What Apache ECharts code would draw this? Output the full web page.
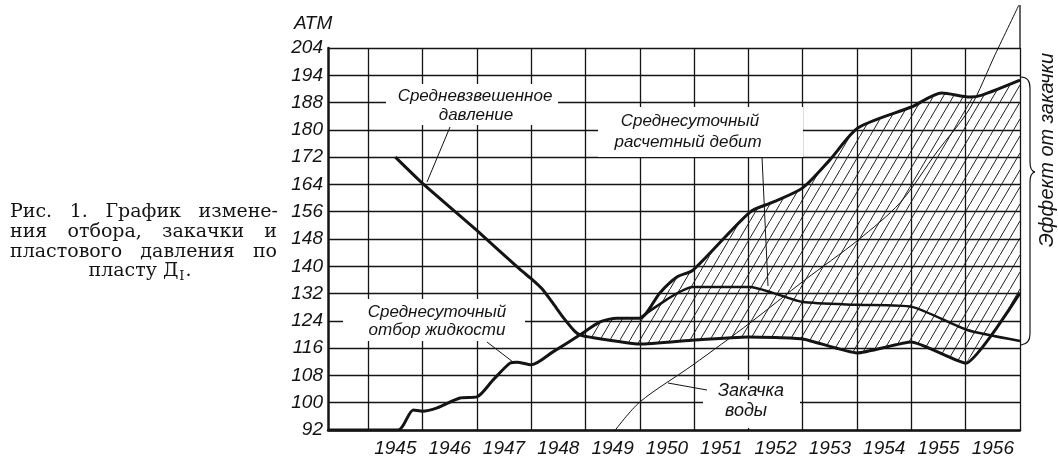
<!DOCTYPE html>
<html><head><meta charset="utf-8">
<script src="https://cdn.jsdelivr.net/npm/echarts@6/dist/echarts.min.js"></script>
<style>html,body{margin:0;padding:0;background:#fff}#c{width:1058px;height:462px}</style>
</head><body><div id="c"></div>
<script>
// ---------- data ----------
const yearLabels = ['1945','1946','1947','1948','1949','1950','1951','1952','1953','1954','1955','1956'];
const yTickLabels = ['92','100','108','116','124','132','140','148','156','164','172','180','188','194','204'];

// Средневзвешенное давление (ATM)
const pressure = [
  [1945.5,172.0],[1946.0,164.3],[1947.0,150.5],[1947.8,139.0],[1948.0,136.4],
  [1948.2,133.4],[1948.4,129.2],[1948.6,124.8],[1948.8,121.0],[1948.9,119.9],
  [1949.05,119.3],[1950.0,117.2],[1951.0,118.4],[1952.0,119.3],[1953.0,118.7],
  [1954.0,114.6],[1955.0,117.8],[1956.0,111.6],[1957.0,132.2]
];
// Среднесуточный отбор жидкости
const withdrawal = [
  [1944.26,92.0],[1945.55,92.0],[1945.83,97.9],[1946.0,97.5],[1946.27,98.5],
  [1946.69,101.4],[1947.0,101.7],[1947.3,106.7],[1947.61,111.6],[1947.74,111.9],
  [1948.0,111.1],[1948.4,114.9],[1948.9,119.9],[1949.27,123.7],[1949.58,124.8],
  [1950.0,124.8],[1950.37,132.2],[1950.69,136.9],[1950.98,138.9],[1952.03,155.9],
  [1952.45,158.8],[1953.0,163.0],[1953.5,171.2],[1954.02,180.6],[1955.0,186.7],
  [1955.56,190.8],[1956.08,189.6],[1956.3,190.2],[1957.0,194.6]
];
// Среднесуточный расчетный дебит
const calcRate = [
  [1950.0,124.8],[1950.98,133.9],[1952.03,133.9],[1952.45,132.2],[1953.0,129.5],
  [1954.02,128.7],[1955.01,128.1],[1956.03,121.3],[1957.0,118.1]
];
// Закачка воды
const injection = [
  [1949.55,92.0],[1950.0,100.2],[1950.98,111.1],[1952.03,123.4],[1953.04,136.0],
  [1954.02,147.7],[1954.79,158.6],[1955.47,173.5],[1956.08,186.4],[1956.54,202.0],
  [1956.98,216.6]
];
const frameTop = [[1957.0,204.0],[1957.0,216.6]];

// ---------- build ----------
const gridYears = yearLabels.map(Number).concat([Number(yearLabels[yearLabels.length-1]) + 1]);
const labelValues = yearLabels.map(y => Number(y) + 0.5);
const crossX = 1948.9;
const hatchPoly = withdrawal.filter(p => p[0] >= crossX)
  .concat(pressure.filter(p => p[0] >= crossX).reverse());

const pc = document.createElement('canvas'); pc.width = 10; pc.height = 17;
const pg = pc.getContext('2d'); pg.strokeStyle = '#222'; pg.lineWidth = 1;
pg.beginPath(); pg.moveTo(-1, 18.7); pg.lineTo(11, -1.7); pg.stroke();
const hatch = { image: pc, repeat: 'repeat' };

const INK = '#141414';
const AF = 'italic 17px "Liberation Sans", Arial, sans-serif';
const CF = '19px "DejaVu Serif", "Liberation Serif", serif';
const mctx = document.createElement('canvas').getContext('2d');
function measure(s, font) { mctx.font = font; return mctx.measureText(s).width; }

function justify(words, x0, x1, y, font) {
  const ws = words.map(w => measure(w, font));
  const total = ws.reduce((a, b) => a + b, 0);
  const gap = (x1 - x0 - total) / (words.length - 1);
  let x = x0; const out = [];
  words.forEach((w, i) => {
    out.push({ type: 'text', x: x, y: y, z: 20,
      style: { text: w, font: font, fill: INK, textVerticalAlign: 'middle' } });
    x += ws[i] + gap;
  });
  return out;
}
function lastLine(cx, y) {
  const subF = '13px "DejaVu Serif", "Liberation Serif", serif';
  const a = 'пласту Д', b = 'I', c = '.';
  const wa = measure(a, CF), wb = measure(b, subF), wc = measure(c, CF);
  let x = cx - (wa + wb + wc) / 2;
  return [
    { type: 'text', z: 20, x: x, y: y, style: { text: a, font: CF, fill: INK, textVerticalAlign: 'middle' } },
    { type: 'text', z: 20, x: x + wa + 1, y: y + 6, style: { text: b, font: subF, fill: INK, textVerticalAlign: 'middle' } },
    { type: 'text', z: 20, x: x + wa + wb + 2, y: y, style: { text: c, font: CF, fill: INK, textVerticalAlign: 'middle' } }
  ];
}
function txt(s, x, y, font, extra) {
  return Object.assign({ type: 'text', x: x, y: y, z: 20,
    style: { text: s, font: font || AF, fill: INK, textAlign: 'center', textVerticalAlign: 'middle' } }, extra || {});
}
function box(x, y, w, h) {
  return { type: 'rect', z: 15, shape: { x: x, y: y, width: w, height: h }, style: { fill: '#fff' } };
}
function seg(x1, y1, x2, y2, w) {
  return { type: 'line', z: 20, shape: { x1: x1, y1: y1, x2: x2, y2: y2 }, style: { stroke: INK, lineWidth: w || 1 } };
}
function curve(x1, y1, cx, cy, x2, y2) {
  return { type: 'bezierCurve', z: 20, shape: { x1: x1, y1: y1, cpx1: cx, cpy1: cy, x2: x2, y2: y2 },
    style: { stroke: INK, lineWidth: 1.2, fill: null } };
}

const graphics = [
  box(386, 84, 172, 41), box(598, 107, 205, 50), box(343, 299, 182, 42), box(703, 380, 97, 48),
  txt('Средневзвешенное', 475, 96), txt('давление', 476, 115),
  txt('Среднесуточный', 690, 121), txt('расчетный дебит', 688, 142),
  txt('Среднесуточный', 437, 312), txt('отбор жидкости', 437, 330),
  txt('Закачка', 751, 391, 'italic 18px "Liberation Sans", Arial, sans-serif'),
  txt('воды', 746, 411, 'italic 18px "Liberation Sans", Arial, sans-serif'),
  seg(450, 127, 427, 182), seg(762, 157, 768, 286), seg(487, 342, 513, 362), seg(668, 383, 707, 390),
  curve(1021, 77, 1030, 77, 1030, 88), seg(1030, 88, 1030, 162, 1.2),
  curve(1030, 162, 1030, 171, 1035, 172), curve(1035, 172, 1030, 173, 1030, 182),
  seg(1030, 182, 1030, 334, 1.2), curve(1030, 334, 1030, 344, 1021, 345),
  { type: 'text', z: 20, x: 1047, y: 150, rotation: Math.PI / 2,
    style: { text: 'Эффект от закачки', font: 'italic 20px "Liberation Sans", Arial, sans-serif', fill: INK,
      textAlign: 'center', textVerticalAlign: 'middle' } },
  { type: 'text', z: 20, x: 294, y: 24,
    style: { text: 'АТМ', font: 'italic 19px "Liberation Sans", Arial, sans-serif', fill: INK, textVerticalAlign: 'middle' } }
].concat(
  justify(['Рис.', '1.', 'График', 'измене-'], 10, 278, 212, CF),
  justify(['ния', 'отбора,', 'закачки', 'и'], 10, 277, 232, CF),
  justify(['пластового', 'давления', 'по'], 10, 277, 252, CF),
  lastLine(139, 271)
);

const chart = echarts.init(document.getElementById('c'), null, { renderer: 'canvas' });
chart.setOption({
  animation: false,
  backgroundColor: '#fff',
  grid: { left: 328, right: 38, top: 48, bottom: 32 },
  xAxis: {
    type: 'value', min: 1944.26, max: 1957,
    axisLine: { show: true, onZero: false, lineStyle: { color: INK, width: 2.5 } },
    axisTick: { show: false },
    splitLine: { show: false },
    axisLabel: {
      customValues: labelValues, margin: 9, color: INK,
      fontFamily: '"Liberation Sans", Arial, sans-serif', fontStyle: 'italic', fontSize: 19,
      formatter: v => yearLabels[Math.floor(v) - Number(yearLabels[0])]
    }
  },
  yAxis: {
    type: 'value', min: 92, max: 204, interval: 8,
    axisLine: { show: true, lineStyle: { color: INK, width: 2.5 } },
    axisTick: { show: false },
    splitLine: { show: true, lineStyle: { color: INK, width: 1.3 } },
    axisLabel: {
      margin: 5, color: INK,
      fontFamily: '"Liberation Sans", Arial, sans-serif', fontStyle: 'italic', fontSize: 19,
      formatter: v => yTickLabels[Math.round((v - 92) / 8)]
    }
  },
  graphic: graphics,
  series: [
    { type: 'custom', silent: true, z: 1, clip: false, data: [[1950, 150]],
      renderItem: (params, api) => ({
        type: 'polygon', shape: { points: hatchPoly.map(p => api.coord(p)) },
        style: { fill: hatch, stroke: null }
      }) },
    { type: 'line', name: 'withdrawal', data: withdrawal, symbol: 'none', smooth: 0.25, z: 5,
      lineStyle: { color: INK, width: 3 },
      markLine: { silent: true, symbol: 'none', label: { show: false },
        lineStyle: { color: INK, width: 1.3, type: 'solid' },
        data: gridYears.map(y => ({ xAxis: y })) } },
    { type: 'line', name: 'pressure', data: pressure, symbol: 'none', smooth: 0.15, z: 5,
      lineStyle: { color: INK, width: 3 } },
    { type: 'line', name: 'calcRate', data: calcRate, symbol: 'none', smooth: 0.2, z: 5,
      lineStyle: { color: INK, width: 2.5 } },
    { type: 'line', name: 'injection', data: injection, symbol: 'none', smooth: 0.3, clip: false, z: 5,
      lineStyle: { color: INK, width: 1 } },
    { type: 'line', name: 'frameTop', data: frameTop, symbol: 'none', clip: false, z: 5,
      lineStyle: { color: INK, width: 1.3 } }
  ]
});
</script></body></html>
